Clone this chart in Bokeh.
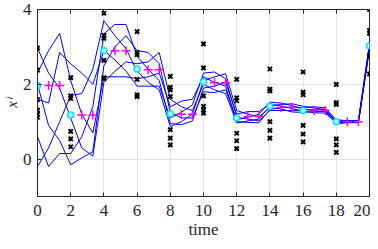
import numpy as np
from bokeh.plotting import figure
from bokeh.models import LinearAxis, FixedTicker, CustomJSTickFormatter, Range1d
from bokeh.embed import file_html
from bokeh.resources import INLINE

# time grid of the trajectories (step 2/3)
t_grid = list(np.linspace(0, 20, 31))

traj_1 = [2.97, 2.3, 1.9, 1.1, 0.3, 0.08, 2.05, 2.35, 2.6, 2.55, 2.6, 2.85, 1.6, 1.4, 1.3, 2.0,
          1.85, 1.75, 0.97, 1.02, 1.07, 1.42, 1.46, 1.48, 1.41, 1.37, 1.31, 0.99, 0.98, 0.97, 2.95]
traj_2 = [2.0, 0.9, 0.5, -0.15, 0.03, 0.2, 2.5, 3.0, 3.3, 2.9, 2.85, 2.55, 1.25, 1.1, 1.1, 1.8,
          1.78, 1.85, 1.05, 1.12, 1.2, 1.52, 1.5, 1.43, 1.34, 1.3, 1.26, 0.95, 0.97, 0.98, 3.0]
traj_3 = [0.6, -0.2, 0.15, 0.15, 0.6, 1.4, 3.35, 3.6, 3.6, 2.75, 2.4, 2.1, 0.95, 0.92, 1.02, 1.9,
          1.95, 2.05, 1.2, 1.27, 1.27, 1.47, 1.42, 1.35, 1.28, 1.24, 1.23, 0.97, 0.99, 1.0, 3.05]
traj_4 = [-0.2, 0.3, 1.0, 1.7, 1.75, 2.4, 3.7, 3.3, 2.95, 2.35, 2.05, 1.85, 0.87, 1.0, 1.2, 2.1,
          2.2, 2.28, 1.3, 1.2, 1.13, 1.37, 1.34, 1.26, 1.25, 1.27, 1.28, 1.01, 1.02, 1.03, 3.1]
traj_5 = [1.6, 1.5, 2.85, 2.55, 2.3, 2.0, 2.9, 2.65, 2.35, 1.95, 1.95, 1.95, 1.1, 1.25, 1.45, 2.3,
          2.33, 2.15, 1.12, 1.07, 1.02, 1.3, 1.3, 1.3, 1.31, 1.33, 1.34, 1.05, 1.03, 1.02, 3.02]
traj_6 = [2.3, 2.9, 3.36, 2.1, 1.2, 0.7, 2.2, 2.2, 2.2, 2.15, 2.2, 2.3, 1.4, 1.55, 1.6, 2.2,
          2.05, 1.95, 1.0, 0.98, 0.97, 1.33, 1.38, 1.39, 1.38, 1.4, 1.37, 1.03, 1.0, 0.99, 2.98]

# observations (black crosses)
obs_t = [0, 0, 0, 0, 0, 0,
         2, 2, 2, 2, 2, 2,
         4, 4, 4, 4, 4, 4,
         6, 6, 6, 6, 6, 6,
         8, 8, 8, 8, 8, 8, 8,
         10, 10, 10, 10, 10, 10,
         12, 12, 12, 12, 12, 12,
         14, 14, 14, 14, 14, 14,
         16, 16, 16, 16, 16, 16,
         18, 18, 18, 18, 18, 18,
         20, 20, 20, 20, 20]
obs_y = [2.97, 2.38, 1.59, 1.31, 1.2, 1.12,
         2.18, 1.69, 1.62, 0.74, 0.54, 0.33,
         3.9, 3.31, 3.23, 2.64, 2.18, 2.15,
         3.41, 2.85, 2.79, 2.13, 1.72, 1.67,
         2.21, 1.92, 1.85, 1.67, 0.79, 0.56, 0.38,
         3.08, 2.44, 1.69, 1.41, 1.31, 1.23,
         2.13, 1.64, 1.56, 0.69, 0.49, 0.28,
         2.41, 1.87, 1.82, 1.0, 0.77, 0.56,
         2.33, 1.79, 1.72, 0.9, 0.67, 0.46,
         2.0, 1.51, 1.46, 0.54, 0.38, 0.18,
         4.0, 3.44, 3.36, 2.77, 2.28]

# estimates at the observation times (cyan)
est_t = [0, 2, 4, 6, 8, 10, 12, 14, 16, 18, 20]
est_y = [1.97, 1.18, 2.9, 2.41, 1.21, 2.06, 1.1, 1.41, 1.3, 1.0, 3.03]

# held estimates between observations (magenta)
hold_t = [0.667, 1.333, 2.667, 3.333, 4.667, 5.333, 6.667, 7.333, 8.667, 9.333,
          10.667, 11.333, 12.667, 13.333, 14.667, 15.333, 16.667, 17.333, 18.667, 19.333]
hold_y = [1.97, 1.97, 1.18, 1.18, 2.9, 2.9, 2.39, 2.39, 1.2, 1.2,
          2.04, 2.04, 1.14, 1.14, 1.38, 1.38, 1.3, 1.3, 1.0, 1.0]

x_ticks = [0, 2, 4, 6, 8, 10, 12, 14, 16, 18, 20]
y_ticks = [0, 2, 4]

FONT = "Liberation Serif"
AX = "#262626"

p = figure(width=370, height=241, output_backend="svg", toolbar_location=None,
           x_range=Range1d(0, 20), y_range=Range1d(-1, 4),
           min_border_left=29, min_border_right=1, min_border_top=9, min_border_bottom=0)
p.background_fill_color = "white"
p.border_fill_color = "white"
p.outline_line_color = AX
p.outline_line_width = 1

for ax in (p.xaxis[0], p.yaxis[0]):
    ax.axis_line_color = AX
    ax.major_tick_line_color = AX
    ax.major_tick_in = 4
    ax.major_tick_out = 0
    ax.minor_tick_line_color = None
    ax.major_label_text_font = FONT
    ax.major_label_text_font_size = "17px"
    ax.major_label_text_color = AX

p.xaxis[0].ticker = FixedTicker(ticks=x_ticks)
p.yaxis[0].ticker = FixedTicker(ticks=y_ticks)
p.xaxis[0].major_label_standoff = 8
p.yaxis[0].major_label_standoff = 6
p.xaxis[0].axis_label = "time"
p.xaxis[0].axis_label_text_font = FONT
p.xaxis[0].axis_label_text_font_size = "17px"
p.xaxis[0].axis_label_text_font_style = "normal"
p.xaxis[0].axis_label_text_color = AX
p.xaxis[0].axis_label_standoff = 1
p.yaxis[0].axis_label = "xⁱ"
p.yaxis[0].axis_label_text_font = FONT
p.yaxis[0].axis_label_text_font_size = "15px"
p.yaxis[0].axis_label_text_font_style = "italic"
p.yaxis[0].axis_label_text_color = AX
p.yaxis[0].axis_label_standoff = 0

empty = CustomJSTickFormatter(code="return ''")
top_ax = LinearAxis(ticker=FixedTicker(ticks=x_ticks), formatter=empty,
                    major_tick_in=4, major_tick_out=0, minor_tick_line_color=None,
                    major_label_standoff=0, axis_line_color=AX, major_tick_line_color=AX)
p.add_layout(top_ax, "above")

p.xgrid.ticker = FixedTicker(ticks=x_ticks)
p.ygrid.ticker = FixedTicker(ticks=y_ticks)
p.grid.grid_line_color = "#e3e3e3"
p.grid.grid_line_width = 1

for tr in (traj_1, traj_2, traj_3, traj_4, traj_5, traj_6):
    p.line(t_grid, tr, line_color="#0000ff", line_width=1)

p.scatter(obs_t, obs_y, marker="x", size=6, line_color="black", line_width=2)
p.scatter(hold_t, hold_y, marker="cross", size=9, line_color="#ff00ff", line_width=1.5)
p.scatter(est_t, est_y, marker="circle", size=6, line_color="#00e5ff", fill_color="#b0f8ff",
          line_width=1.5)

open("out.html", "w").write(file_html(p, INLINE))
